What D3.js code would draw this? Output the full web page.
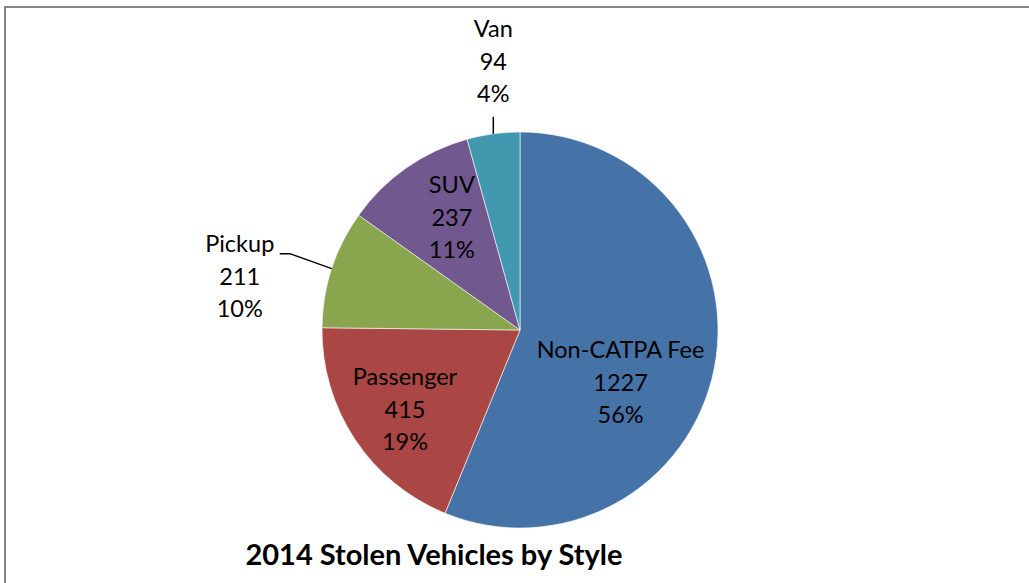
<!DOCTYPE html>
<html>
<head>
<meta charset="utf-8">
<script src="https://cdn.jsdelivr.net/npm/d3@7"></script>
<style>
  body { margin: 0; background: #fff; }
  text { font-family: Lato, "Noto Sans", sans-serif; fill: #000; }
</style>
</head>
<body>
<div id="chart"></div>
<script>
const categories = ["Non-CATPA Fee", "Passenger", "Pickup", "SUV", "Van"];
const counts = [1227, 415, 211, 237, 94];
const percents = ["56%", "19%", "10%", "11%", "4%"];
const colors = ["#4572a7", "#aa4643", "#89a54e", "#71588f", "#4198af"];
const title = "2014 Stolen Vehicles by Style";

const width = 1029, height = 583;
const cx = 520, cy = 330, radius = 198;
const lineH = 32.5;

const data = categories.map((c, i) => ({ name: c, value: counts[i], pct: percents[i], color: colors[i] }));

const svg = d3.select("#chart").append("svg")
  .attr("width", width)
  .attr("height", height);

// chart area border (runs off the right and bottom edges)
svg.append("rect")
  .attr("x", 5).attr("y", 7)
  .attr("width", 1100).attr("height", 1000)
  .attr("fill", "none")
  .attr("stroke", "#868686")
  .attr("stroke-width", 2);

const g = svg.append("g").attr("transform", "translate(" + cx + "," + cy + ")");

const pie = d3.pie().sort(null).value(d => d.value);
const arcs = pie(data);
const arc = d3.arc().innerRadius(0).outerRadius(radius);
const labelArc = d3.arc().innerRadius(radius * 0.6).outerRadius(radius * 0.6);
const edgeArc = d3.arc().innerRadius(radius).outerRadius(radius);

g.selectAll("path.slice")
  .data(arcs)
  .enter().append("path")
  .attr("class", "slice")
  .attr("d", arc)
  .attr("fill", d => d.data.color)
  .attr("stroke", "#fff")
  .attr("stroke-width", 0.6);

// inside labels: centroid + small nudge like Excel's placement
const insideNudge = { "Non-CATPA Fee": [-16, 30], "Passenger": [-16, 14], "SUV": [0, -15] };
// outside labels: leader elbow and text block offset from the slice edge point
const outside = {
  "Pickup": { elbow: [-42, -15], end: [-52, -15], text: [-92, 10] },
  "Van": { elbow: [0, -17], end: [0, -17], text: [0, -70] }
};

function block(sel, x, y, d) {
  const t = sel.append("text")
    .attr("text-anchor", "middle")
    .attr("font-size", 23.5)
    .attr("x", x).attr("y", y);
  [d.data.name, d.data.value, d.data.pct].forEach((s, i) => {
    t.append("tspan").attr("x", x).attr("y", y + (i - 1) * lineH + 8).text(s);
  });
}

arcs.forEach(d => {
  const name = d.data.name;
  if (insideNudge[name]) {
    const c = labelArc.centroid(d);
    block(g, c[0] + insideNudge[name][0], c[1] + insideNudge[name][1], d);
  } else {
    const o = outside[name];
    const p = edgeArc.centroid(d);
    g.append("polyline")
      .attr("points", [p, [p[0] + o.elbow[0], p[1] + o.elbow[1]], [p[0] + o.end[0], p[1] + o.end[1]]].map(q => q.join(",")).join(" "))
      .attr("fill", "none")
      .attr("stroke", "#000")
      .attr("stroke-width", 1.5);
    block(g, p[0] + o.text[0], p[1] + o.text[1] - 2, d);
  }
});

svg.append("text")
  .attr("x", 434).attr("y", 565)
  .attr("text-anchor", "middle")
  .attr("font-size", 29)
  .attr("font-weight", "bold")
  .text(title);
</script>
</body>
</html>
